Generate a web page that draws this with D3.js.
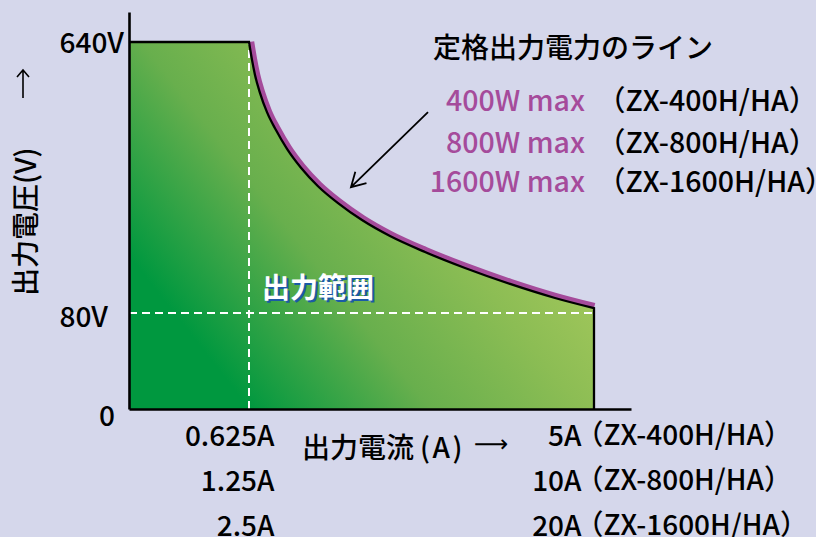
<!DOCTYPE html>
<html><head><meta charset="utf-8">
<script src="https://cdn.jsdelivr.net/npm/d3@7"></script>
<style>
html,body{margin:0;padding:0;background:#d5d7eb;}
svg{display:block;}
text{font-family:"Noto Sans CJK JP","Noto Sans",sans-serif;font-weight:500;}
</style></head>
<body>
<svg id="chart" width="816" height="537"></svg>
<script>
// ---- data ----
const voltageTicks = [0, 80, 640];
const voltageLabels = ["0", "80V", "640V"];
const currentTicks = [0.625, 5];
const lowCurrentLabels = ["0.625A", "1.25A", "2.5A"];
const highCurrentLabels = ["5A", "10A", "20A"];
const modelNames = ["（ZX-400H/HA）", "（ZX-800H/HA）", "（ZX-1600H/HA）"];
const powerLabels = ["400W max", "800W max", "1600W max"];
// rated power line (schematic)
const curveCurrent = [0.625, 0.663, 0.701, 0.764, 0.853, 0.967, 1.107, 1.284, 1.5, 1.754, 2.058, 2.413, 2.857, 3.364, 3.935, 4.505, 5];
const curveVoltage = [640, 603, 572, 535, 495, 458, 419, 380, 342, 307, 272, 239, 206, 173, 140, 111, 90];
const arrowFrom = [2.895, 495];
const arrowTo = [1.918, 340];
const titleText = "定格出力電力のライン";
const regionLabel = "出力範囲";
const xTitle = "出力電流";
const xUnit = "(A)";
const yTitle = "出力電圧(V)";

// ---- layout ----
const svg = d3.select("#chart");
const x = d3.scaleLinear().domain([0, 0.625, 5, 5.45]).range([129, 249, 594, 631]);
const y = d3.scaleLinear().domain([0, 80, 640, 700]).range([409, 313, 42, 12]);

const defs = svg.append("defs");
const grad = defs.append("linearGradient").attr("id", "g")
  .attr("gradientUnits", "userSpaceOnUse")
  .attr("x1", x(0)).attr("y1", y(0)).attr("x2", x(5)).attr("y2", y(640));
[[0, "#00983f"], [0.16, "#00983f"], [0.4, "#68af4d"], [0.6, "#8cbd54"], [0.75, "#a2c75b"], [1, "#a8ca5c"]]
  .forEach(([o, c]) => grad.append("stop").attr("offset", o).attr("stop-color", c));

const pts = curveCurrent.map((c, i) => [c, curveVoltage[i]]);
const curveGen = d3.line().x(d => x(d[0])).y(d => y(d[1])).curve(d3.curveMonotoneX);
const curvePath = curveGen(pts);

// purple rated power line (under the fill)
svg.append("path").attr("d", curvePath).attr("fill", "none")
  .attr("stroke", "#a54b9b").attr("stroke-width", 10.5);

// filled output range
const areaPath = `M${x(0)},${y(0)}L${x(0)},${y(640)}L${x(0.625)},${y(640)}` +
  curvePath.replace(/^M/, "L") + `L${x(5)},${y(0)}Z`;
svg.append("path").attr("d", areaPath).attr("fill", "url(#g)");

// dashed guides
svg.append("line").attr("x1", x(0.625)).attr("x2", x(0.625)).attr("y1", y(0)).attr("y2", y(640))
  .attr("stroke", "#fff").attr("stroke-width", 2).attr("stroke-dasharray", "8,5");
svg.append("line").attr("x1", x(0)).attr("x2", x(5)).attr("y1", y(80)).attr("y2", y(80))
  .attr("stroke", "#fff").attr("stroke-width", 2).attr("stroke-dasharray", "8,5");

// black outline
const outline = `M${x(0)},${y(640)}L${x(0.625)},${y(640)}` + curvePath.replace(/^M/, "L") + `L${x(5)},${y(0)}`;
svg.append("path").attr("d", outline).attr("fill", "none").attr("stroke", "#000").attr("stroke-width", 2.3);

// axes
const yAxis = svg.append("g").attr("transform", `translate(${x(0)},0)`)
  .call(d3.axisLeft(y).tickValues(voltageTicks).tickSize(0).tickSizeOuter(0)
    .tickFormat((d, i) => voltageLabels[i]));
yAxis.select(".domain").attr("stroke", "#000").attr("stroke-width", 2.6);
const yOff = [[-14, 8], [-21, 5], [-5, 2]];
yAxis.selectAll(".tick text")
  .attr("font-size", 28).attr("fill", "#000").attr("font-family", null)
  .attr("x", (d, i) => yOff[i][0]).attr("dy", "0.32em")
  .attr("transform", (d, i) => `translate(0,${yOff[i][1]})`);

const xAxis = svg.append("g").attr("transform", `translate(0,${y(0)})`)
  .call(d3.axisBottom(x).tickValues(currentTicks).tickSize(0).tickSizeOuter(0).tickFormat(""));
xAxis.select(".domain").attr("stroke", "#000").attr("stroke-width", 2.6);
xAxis.attr("font-family", null);
const lineBase = [37, 82, 127];
xAxis.selectAll(".tick").each(function (d, ti) {
  const g = d3.select(this);
  g.select("text").remove();
  const labels = ti === 0 ? lowCurrentLabels : highCurrentLabels;
  labels.forEach((t, i) => {
    g.append("text").text(t).attr("x", ti === 0 ? 25 : -13).attr("y", lineBase[i])
      .attr("text-anchor", "end").attr("font-size", 28).attr("fill", "#000");
    if (ti === 1) {
      g.append("text").text(modelNames[i]).attr("x", -19).attr("y", lineBase[i] - 1)
        .attr("text-anchor", "start").attr("font-size", 28).attr("fill", "#000");
    }
  });
});

// axis titles
svg.append("text").text(xTitle).attr("x", 302).attr("y", 458)
  .attr("font-size", 28).attr("fill", "#000");
svg.append("text").text(xUnit).attr("x", 420).attr("y", 458)
  .attr("font-size", 28).attr("fill", "#000").attr("letter-spacing", 2.5);
svg.append("text").text("⟶").attr("x", 474).attr("y", 452)
  .attr("font-size", 24).attr("fill", "#000")
  .style("font-family", '"DejaVu Sans",sans-serif').style("font-weight", 400);
svg.append("text").text(yTitle)
  .attr("transform", "translate(24,296) rotate(-90)")
  .attr("dominant-baseline", "central").attr("font-size", 28).attr("fill", "#000");
// vertical axis arrow
svg.append("path").attr("d", "M23,98L23,70M17,77L23,70L29,77")
  .attr("fill", "none").attr("stroke", "#000").attr("stroke-width", 1.6);

// region label with blue shadow
const rl = svg.append("g").attr("transform", `translate(${x(0.625) + 13},${y(80) - 15})`);
rl.append("text").text(regionLabel).attr("x", 2.2).attr("y", 2.2)
  .attr("font-size", 28).style("font-weight", 700).attr("fill", "#1b5aa6");
rl.append("text").text(regionLabel)
  .attr("font-size", 28).style("font-weight", 700).attr("fill", "#fff");

// legend
svg.append("text").text(titleText).attr("x", 433).attr("y", 58)
  .attr("font-size", 28).attr("fill", "#000");
const legY = [111, 153, 192];
powerLabels.forEach((t, i) => {
  svg.append("text").text(t).attr("x", 585).attr("y", legY[i]).attr("text-anchor", "end")
    .attr("font-size", 28.5).attr("fill", "#a54b9b");
  svg.append("text").text(modelNames[i]).attr("x", 597).attr("y", legY[i])
    .attr("font-size", 28.5).attr("fill", "#000");
});

// annotation arrow
const ax1 = x(arrowFrom[0]), ay1 = y(arrowFrom[1]), ax2 = x(arrowTo[0]), ay2 = y(arrowTo[1]);
const ang = Math.atan2(ay1 - ay2, ax1 - ax2), L = 16, spread = Math.PI / 6;
svg.append("path")
  .attr("d", `M${ax1},${ay1}L${ax2},${ay2}` +
    `M${ax2 + L * Math.cos(ang - spread)},${ay2 + L * Math.sin(ang - spread)}L${ax2},${ay2}` +
    `L${ax2 + L * Math.cos(ang + spread)},${ay2 + L * Math.sin(ang + spread)}`)
  .attr("fill", "none").attr("stroke", "#000").attr("stroke-width", 1.8);
</script>
</body></html>
